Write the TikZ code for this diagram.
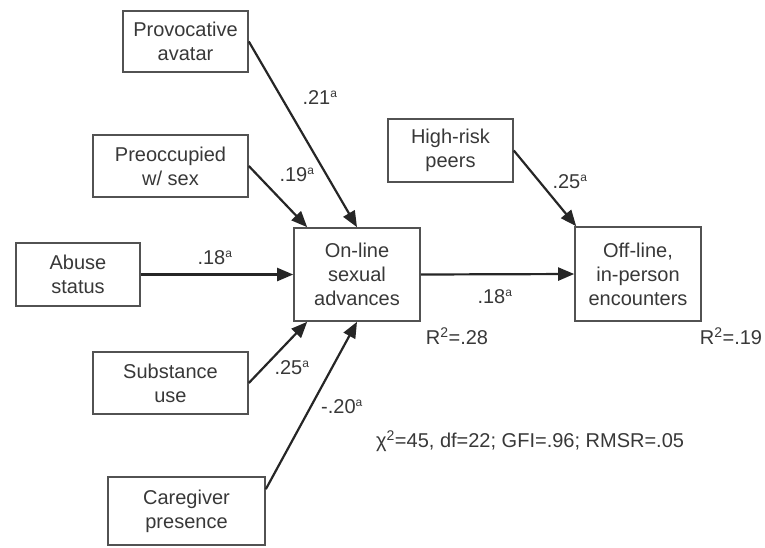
\documentclass[tikz,border=0pt]{standalone}
\usepackage{fontspec}
\setmainfont{Liberation Sans}
\usetikzlibrary{arrows.meta}
\definecolor{ink}{gray}{0.22}
\definecolor{edge}{gray}{0.15}
\newcommand{\sa}{\textsuperscript{\fontsize{12}{12}\selectfont a}}
\begin{document}
\begin{tikzpicture}[x=1pt,y=-1pt,
  every node/.style={text=ink,font=\fontsize{20}{24}\selectfont},
  var/.style={draw=edge!80,line width=1.6pt,align=center,inner sep=0pt},
  path/.style={draw=edge,line width=2.2pt,-{Triangle[length=16pt,width=13pt]}},
  coef/.style={inner sep=0pt}]
\useasboundingbox (0,0) rectangle (765,547);

% exogenous and endogenous variables
\node[var,minimum width=125pt,minimum height=61pt] (prov) at (185.5,41.5) {Provocative\\avatar};
\node[var,minimum width=155pt,minimum height=62pt] (preo) at (170.5,166) {Preoccupied\\w/ sex};
\node[var,minimum width=124pt,minimum height=63pt] (abuse) at (78,274.5) {Abuse\\status};
\node[var,minimum width=126pt,minimum height=93pt] (online) at (357,274.5) {On-line\\sexual\\advances};
\node[var,minimum width=155pt,minimum height=62pt] (subst) at (170.5,383) {Substance\\use};
\node[var,minimum width=157pt,minimum height=68pt] (care) at (186.5,511) {Caregiver\\presence};
\node[var,minimum width=125pt,minimum height=63pt] (peers) at (450.5,150.5) {High-risk\\peers};
\node[var,minimum width=126pt,minimum height=94pt] (offline) at (638,274) {Off-line,\\in-person\\encounters};

% structural paths
\draw[path] (prov.east) -- (online.north);
\draw[path] (preo.east) -- ([xshift=14pt]online.north west);
\draw[path] (abuse.east) -- (online.west);
\draw[path] (subst.east) -- ([xshift=14pt]online.south west);
\draw[path] ([yshift=-13pt]care.north east) -- (online.south);
\draw[path] (online.east) -- (offline.west);
\draw[path] (peers.east) -- ([xshift=2pt]offline.north west);

% path coefficients
\node[coef] (c1) at (320,98) {.21\sa};
\node[coef] (c2) at (297,175) {.19\sa};
\node[coef] (c3) at (215,258) {.18\sa};
\node[coef] (c4) at (292,368) {.25\sa};
\node[coef] (c5) at (342,407) {-.20\sa};
\node[coef] (c6) at (570,182) {.25\sa};
\node[coef] (c7) at (495,297) {.18\sa};

% explained variance
\node[coef] (r1) at (457,336) {R\textsuperscript{2}=.28};
\node[coef] (r2) at (731,336) {R\textsuperscript{2}=.19};

% model fit
\node[coef,anchor=west] (fit) at (376,441) {χ\textsuperscript{2}=45, df=22; GFI=.96; RMSR=.05};
\end{tikzpicture}
\end{document}
